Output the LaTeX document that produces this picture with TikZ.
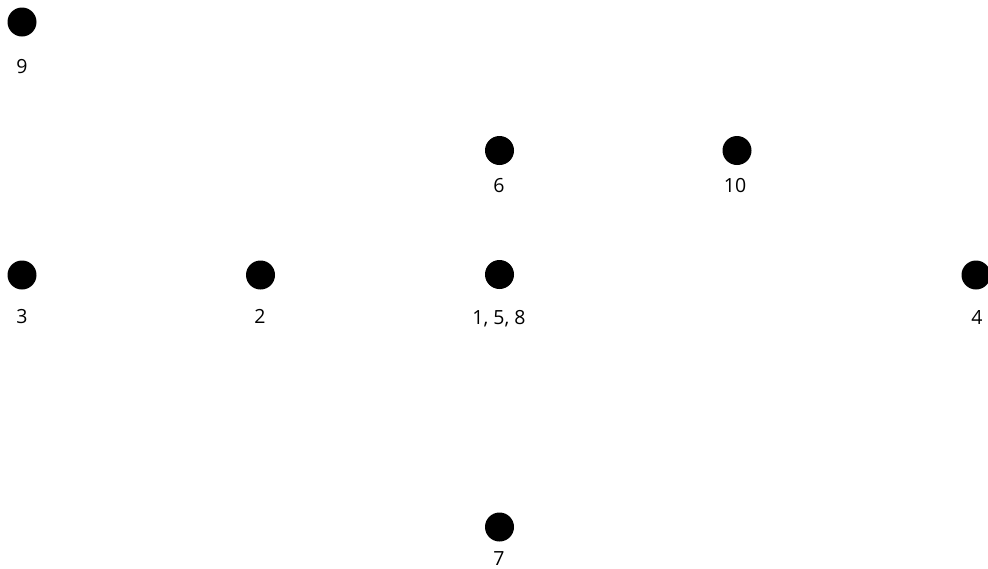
\documentclass[tikz,border=0pt]{standalone}
\usepackage{fontspec}
\setmainfont{Open Sans}
\begin{document}
\begin{tikzpicture}[x=1pt,y=-1pt,
  dot/.style={circle,fill=black,inner sep=0pt,minimum size=29pt},
  lbl/.style={anchor=base,inner sep=0pt,font=\fontsize{19.5}{21}\selectfont}]
\useasboundingbox (0,0) rectangle (988,568);
\node[dot] (n9) at (22,22) {};
\node[dot] (n6) at (499.5,150.5) {};
\node[dot] (n10) at (737,150.5) {};
\node[dot] (n3) at (22,275) {};
\node[dot] (n2) at (260.5,275) {};
\node[dot] (n158) at (499.5,274.5) {};
\node[dot] (n4) at (976,275) {};
\node[dot] (n7) at (499.5,527) {};
\node[lbl] (l9) at (22,73) {9};
\node[lbl] (l6) at (499,192) {6};
\node[lbl] (l10) at (735,192) {10};
\node[lbl] (l3) at (22,323) {3};
\node[lbl] (l2) at (260,323) {2};
\node[lbl] (l158) at (499,324) {1, 5, 8};
\node[lbl] (l4) at (977,324) {4};
\node[lbl] (l7) at (499,565) {7};
\end{tikzpicture}
\end{document}
